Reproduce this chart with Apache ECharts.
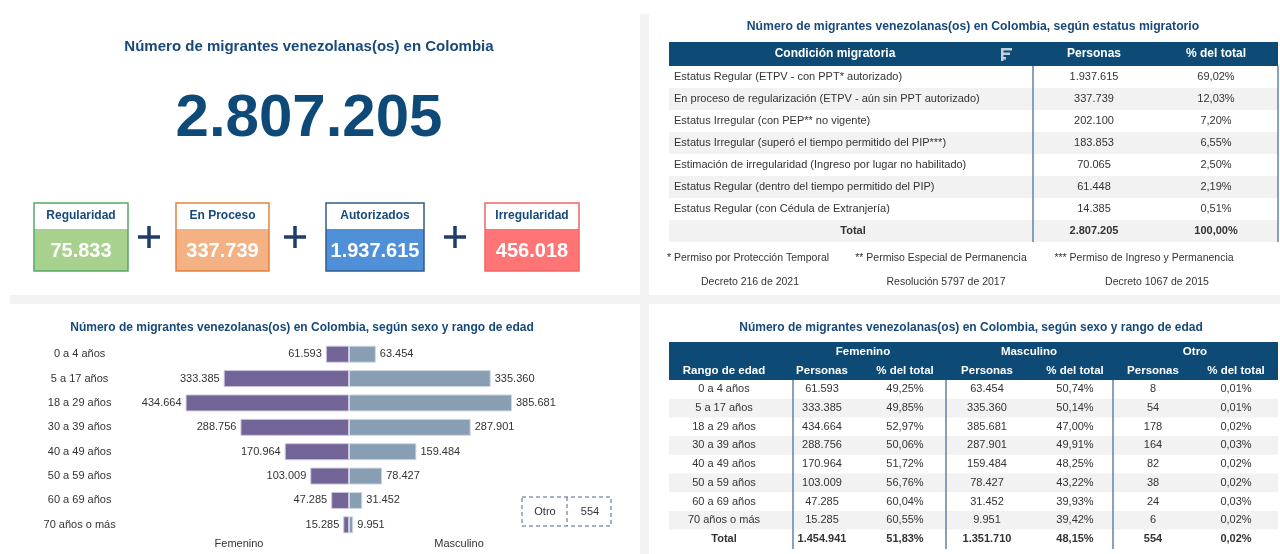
<!DOCTYPE html>
<html>
<head>
<meta charset="utf-8">
<script src="https://cdn.jsdelivr.net/npm/echarts@6/dist/echarts.min.js"></script>
<style>
html, body { margin: 0; padding: 0; background: #fff; }
#main { width: 1280px; height: 554px; }
</style>
</head>
<body>
<div id="main"></div>
<script>
// datos
const total = 2807205
const kpiNames = ['Regularidad', 'En Proceso', 'Autorizados', 'Irregularidad']
const kpiValues = [75833, 337739, 1937615, 456018]

const statusNames = [
    'Estatus Regular (ETPV - con PPT* autorizado)',
    'En proceso de regularización (ETPV - aún sin PPT autorizado)',
    'Estatus Irregular (con PEP** no vigente)',
    'Estatus Irregular (superó el tiempo permitido del PIP***)',
    'Estimación de irregularidad (Ingreso por lugar no habilitado)',
    'Estatus Regular (dentro del tiempo permitido del PIP)',
    'Estatus Regular (con Cédula de Extranjería)'
]
const statusPersons = [1937615, 337739, 202100, 183853, 70065, 61448, 14385]
const statusPct = [69.02, 12.03, 7.20, 6.55, 2.50, 2.19, 0.51]
const notes = ['* Permiso por Protección Temporal', '** Permiso Especial de Permanencia', '*** Permiso de Ingreso y Permanencia']
const noteRefs = ['Decreto 216 de 2021', 'Resolución 5797 de 2017', 'Decreto 1067 de 2015']

const ageRanges = ['0 a 4 años', '5 a 17 años', '18 a 29 años', '30 a 39 años', '40 a 49 años', '50 a 59 años', '60 a 69 años', '70 años o más']
const femenino = [61593, 333385, 434664, 288756, 170964, 103009, 47285, 15285]
const femeninoPct = [49.25, 49.85, 52.97, 50.06, 51.72, 56.76, 60.04, 60.55]
const masculino = [63454, 335360, 385681, 287901, 159484, 78427, 31452, 9951]
const masculinoPct = [50.74, 50.14, 47.00, 49.91, 48.25, 43.22, 39.93, 39.42]
const otro = [8, 54, 178, 164, 82, 38, 24, 6]
const otroPct = [0.01, 0.01, 0.02, 0.03, 0.02, 0.02, 0.03, 0.02]
const sexTotals = [1454941, 1351710, 554]
const sexTotalPct = [51.83, 48.15, 0.02]

const FONT = '"Liberation Sans", Arial, sans-serif'
const NAVY = '#0d4a75'
const TITLE = '#17497a'

let fmt = n => String(n).replace(/\B(?=(\d{3})+(?!\d))/g, '.')
let pct = p => p.toFixed(2).replace('.', ',') + '%'

function txt(x, y, s, o) {
    o = o || {}
    let a = o.align || 'center'
    return {
        type: 'text', x: x, y: y, silent: true,
        style: {
            text: s, fill: o.color || '#333',
            font: (o.bold ? 'bold ' : '') + (o.size || 11) + 'px ' + FONT,
            align: a, textAlign: a, verticalAlign: 'middle', textVerticalAlign: 'middle'
        }
    }
}
function rect(x, y, w, h, style) {
    return { type: 'rect', silent: true, shape: { x: x, y: y, width: w, height: h }, style: style }
}
function line(x1, y1, x2, y2, style) {
    return { type: 'line', silent: true, shape: { x1: x1, y1: y1, x2: x2, y2: y2 }, style: style }
}

let g = []

// separadores grises entre paneles
g.push(rect(640, 14, 9, 540, { fill: '#f3f3f3' }))
g.push(rect(10, 295, 1270, 9, { fill: '#f3f3f3' }))

// panel KPI
g.push(txt(309, 47, 'Número de migrantes venezolanas(os) en Colombia', { bold: true, size: 15, color: TITLE }))
g.push(txt(309, 119, fmt(total), { bold: true, size: 60, color: '#0e4a78' }))

const boxX = [34, 176, 326, 485]
const boxW = [94, 93, 98, 94]
const boxBorder = ['#55a867', '#e2823f', '#2f5d8a', '#f06666']
const boxFill = ['#a9d18e', '#f4b183', '#4f90d9', '#ff7575']
kpiNames.forEach((name, i) => {
    g.push(rect(boxX[i], 229, boxW[i], 42, { fill: boxFill[i] }))
    g.push(rect(boxX[i], 203, boxW[i], 68, { fill: 'none', stroke: boxBorder[i], lineWidth: 1.5 }))
    g.push(txt(boxX[i] + boxW[i] / 2, 216, name, { bold: true, size: 12, color: TITLE }))
    g.push(txt(boxX[i] + boxW[i] / 2, 251, fmt(kpiValues[i]), { bold: true, size: 20, color: '#fff' }))
})
const plusX = [149, 295, 455]
plusX.forEach(x => {
    g.push(line(x - 11, 237, x + 11, 237, { stroke: '#1f3d6b', lineWidth: 3.5 }))
    g.push(line(x, 226, x, 248, { stroke: '#1f3d6b', lineWidth: 3.5 }))
})

// tabla estatus migratorio
g.push(txt(973, 27, 'Número de migrantes venezolanas(os) en Colombia, según estatus migratorio', { bold: true, size: 12.2, color: TITLE }))
g.push(rect(669, 42, 609, 24, { fill: NAVY }))
g.push(txt(835, 54, 'Condición migratoria', { bold: true, size: 12, color: '#fff' }))
g.push(txt(1094, 54, 'Personas', { bold: true, size: 12, color: '#fff' }))
g.push(txt(1216, 54, '% del total', { bold: true, size: 12, color: '#fff' }))
g.push(rect(1001, 48, 11, 2.5, { fill: '#c5d0dc' }))
g.push(rect(1001, 52.5, 9, 2.5, { fill: '#c5d0dc' }))
g.push(rect(1001, 57, 5, 2.5, { fill: '#c5d0dc' }))
g.push(rect(1001, 48, 2.5, 13, { fill: '#c5d0dc' }))
let rh = 22
statusNames.concat(['Total']).forEach((name, i) => {
    let y = 66 + i * rh
    if (i % 2 === 1) g.push(rect(669, y, 609, rh, { fill: '#f2f2f2' }))
    let cy = y + rh / 2
    if (name === 'Total') {
        g.push(txt(853, cy, 'Total', { bold: true }))
        g.push(txt(1094, cy, fmt(total), { bold: true }))
        g.push(txt(1216, cy, pct(100), { bold: true }))
    } else {
        g.push(txt(674, cy, name, { align: 'left' }))
        g.push(txt(1094, cy, fmt(statusPersons[i])))
        g.push(txt(1216, cy, pct(statusPct[i])))
    }
})
g.push(line(1033, 66, 1033, 66 + 8 * rh, { stroke: '#5f83a6', lineWidth: 1.5 }))
g.push(line(1278, 66, 1278, 66 + 8 * rh, { stroke: '#5f83a6', lineWidth: 1.5 }))
const noteX = [748, 941, 1144]
const refX = [750, 946, 1157]
notes.forEach((n, i) => g.push(txt(noteX[i], 258, n, { size: 10.5 })))
noteRefs.forEach((n, i) => g.push(txt(refX[i], 282, n, { size: 10.5 })))

// piramide
g.push(txt(302, 328, 'Número de migrantes venezolanas(os) en Colombia, según sexo y rango de edad', { bold: true, size: 12, color: TITLE }))
g.push(txt(239, 544, 'Femenino'))
g.push(txt(459, 544, 'Masculino'))
let dash = { fill: 'none', stroke: '#48688a', lineWidth: 1, lineDash: [4, 3] }
g.push(rect(522, 497, 89, 29, dash))
g.push(line(567, 497, 567, 526, dash))
g.push(txt(545, 511.5, 'Otro'))
g.push(txt(590, 511.5, fmt(sexTotals[2])))

// tabla sexo y edad
g.push(txt(971, 328, 'Número de migrantes venezolanas(os) en Colombia, según sexo y rango de edad', { bold: true, size: 12, color: TITLE }))
g.push(rect(669, 342, 609, 38, { fill: NAVY }))
const groupNames = ['Femenino', 'Masculino', 'Otro']
const groupX = [863, 1029, 1195]
groupNames.forEach((n, i) => g.push(txt(groupX[i], 352, n, { bold: true, size: 11.5, color: '#fff' })))
const colX = [724, 822, 905, 987, 1075, 1153, 1236]
const colNames = ['Rango de edad', 'Personas', '% del total', 'Personas', '% del total', 'Personas', '% del total']
colNames.forEach((n, i) => g.push(txt(colX[i], 371, n, { bold: true, size: 11.5, color: '#fff' })))
let rh2 = 18.7
ageRanges.forEach((age, i) => {
    let y = 380 + i * rh2
    if (i % 2 === 1) g.push(rect(669, y, 609, rh2, { fill: '#f2f2f2' }))
    let cells = [age, fmt(femenino[i]), pct(femeninoPct[i]), fmt(masculino[i]), pct(masculinoPct[i]), fmt(otro[i]), pct(otroPct[i])]
    cells.forEach((c, j) => g.push(txt(colX[j], y + rh2 / 2, c)))
})
let ty = 380 + 8 * rh2 + rh2 / 2
let totCells = ['Total', fmt(sexTotals[0]), pct(sexTotalPct[0]), fmt(sexTotals[1]), pct(sexTotalPct[1]), fmt(sexTotals[2]), pct(sexTotalPct[2])]
totCells.forEach((c, j) => g.push(txt(colX[j], ty, c, { bold: true })))
const divX = [793, 946, 1113]
divX.forEach(x => g.push(line(x, 380, x, 549, { stroke: '#5f83a6', lineWidth: 1.5 })))

let myChart = echarts.init(document.getElementById('main'))
let option = {
    animation: false,
    textStyle: { fontFamily: FONT },
    grid: [
        { left: 185.6, top: 342, width: 163.4, height: 195 },
        { left: 349, top: 342, width: 163, height: 195 }
    ],
    xAxis: [
        { type: 'value', gridIndex: 0, inverse: true, min: 0, max: Math.max(...femenino), show: false },
        { type: 'value', gridIndex: 1, min: 0, max: Math.max(...masculino), show: false }
    ],
    yAxis: [
        {
            type: 'category', gridIndex: 0, data: ageRanges, inverse: true, position: 'left',
            axisLine: { show: false, onZero: false }, axisTick: { show: false },
            axisLabel: { color: '#333', fontSize: 11, align: 'center', margin: 106 }
        },
        { type: 'category', gridIndex: 1, data: ageRanges, inverse: true, show: false }
    ],
    series: [
        {
            name: 'Femenino', type: 'bar', xAxisIndex: 0, yAxisIndex: 0, data: femenino, barWidth: 17,
            itemStyle: { color: '#736497', borderColor: '#cbc6dc', borderWidth: 1 },
            label: { show: true, position: 'left', distance: 4, color: '#333', fontSize: 11, formatter: p => fmt(p.value) }
        },
        {
            name: 'Masculino', type: 'bar', xAxisIndex: 1, yAxisIndex: 1, data: masculino, barWidth: 17,
            itemStyle: { color: '#889eb3', borderColor: '#d0d9e2', borderWidth: 1 },
            label: { show: true, position: 'right', distance: 4, color: '#333', fontSize: 11, formatter: p => fmt(p.value) }
        }
    ],
    graphic: { elements: g }
}
myChart.setOption(option)
</script>
</body>
</html>
